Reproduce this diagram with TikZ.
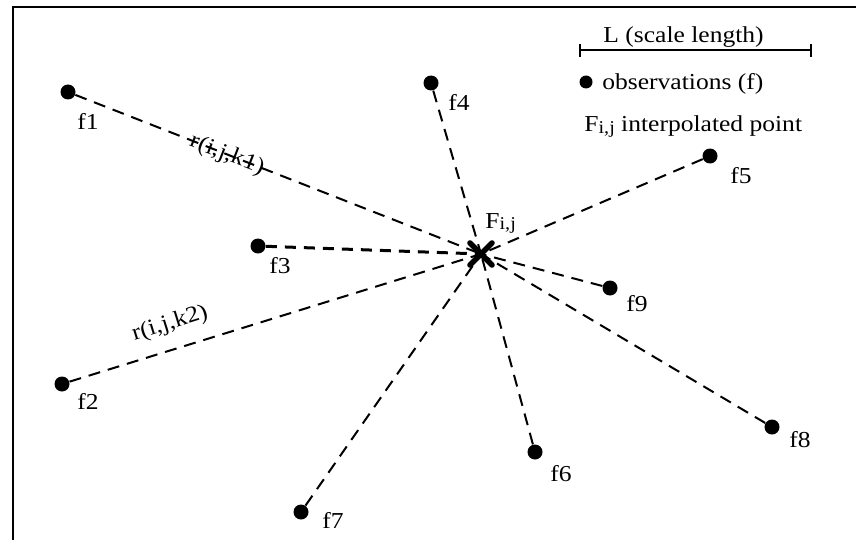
\documentclass[tikz,border=0pt]{standalone}
\usepackage{fontspec}
\usetikzlibrary{calc}
\setmainfont{Liberation Serif}[FakeStretch=1.12]
\newcommand{\Fij}{F{\fontsize{9pt}{10pt}\selectfont\raisebox{-0.8pt}{i,j}}}
\begin{document}
\begin{tikzpicture}[x=0.5pt,y=-0.5pt,
  font=\fontsize{11.4pt}{13pt}\selectfont,
  obs/.style={circle,fill=black,inner sep=0pt,minimum size=7.5pt},
  lbl/.style={inner sep=0pt},
  link/.style={dashed,line width=1pt,dash pattern=on 6pt off 4pt},
  thicklink/.style={dashed,line width=1.5pt,dash pattern=on 5.5pt off 4pt},
  frame/.style={line width=1pt},
  cross/.style={line width=2.8pt,line cap=round}]
\useasboundingbox (0,0) rectangle (856,540);
% frame
\draw[frame] (13,541) -- (13,7) -- (857,7);
% observations
\node[obs] (f1) at (68,92) {};
\node[obs] (f2) at (62,384) {};
\node[obs] (f3) at (258,246) {};
\node[obs] (f4) at (431,83) {};
\node[obs] (f5) at (710,156) {};
\node[obs] (f6) at (535,452) {};
\node[obs] (f7) at (301,512) {};
\node[obs] (f8) at (772,427) {};
\node[obs] (f9) at (610,288) {};
\coordinate (F) at (481,254);
% labels
\node[lbl] (l1) at (88,121) {f1};
\node[lbl] (l2) at (88,401) {f2};
\node[lbl] (l3) at (280,266) {f3};
\node[lbl] (l4) at (459,102) {f4};
\node[lbl] (l5) at (741,176) {f5};
\node[lbl] (l6) at (561,474) {f6};
\node[lbl] (l7) at (333,520) {f7};
\node[lbl] (l8) at (800,440) {f8};
\node[lbl] (l9) at (637,304) {f9};
% connectors
\draw[link] (f1) -- (F);
\draw[link] (f2) -- (F);
\draw[thicklink] (f3) -- (F);
\draw[link] (f4) -- (F);
\draw[link] (f5) -- (F);
\draw[link] (f6) -- (F);
\draw[link] (f7) -- (F);
\draw[link] (f8) -- (F);
\draw[link] (f9) -- (F);
% distance labels
\node[lbl,rotate=-21.3] (r1) at (227,155) {r(i,j,k1)};
\node[lbl,rotate=17.4] (r2) at (170,324) {r(i,j,k2)};
% interpolated point
\draw[cross] ($(F)+(-11,-11)$) -- ($(F)+(11,11)$);
\draw[cross] ($(F)+(-11,11)$) -- ($(F)+(11,-11)$);
\node[lbl,anchor=base west] (Flbl) at (485,228) {\Fij};
% legend
\coordinate (sa) at (580,50);
\coordinate (sb) at (811,50);
\draw[line width=1pt] (sa) -- (sb);
\draw[line width=1pt] ($(sa)+(0,-6)$) -- ($(sa)+(0,7)$);
\draw[line width=1pt] ($(sb)+(0,-6)$) -- ($(sb)+(0,7)$);
\node[lbl,anchor=base west] (Ltxt) at (603,43) {L (scale length)};
\node[obs,minimum size=6.5pt] (ldot) at (586,82) {};
\node[lbl,anchor=base west] (otxt) at (602,90) {observations (f)};
\node[lbl,anchor=base west] (itxt) at (584,132) {\Fij{} interpolated point};
\end{tikzpicture}
\end{document}
